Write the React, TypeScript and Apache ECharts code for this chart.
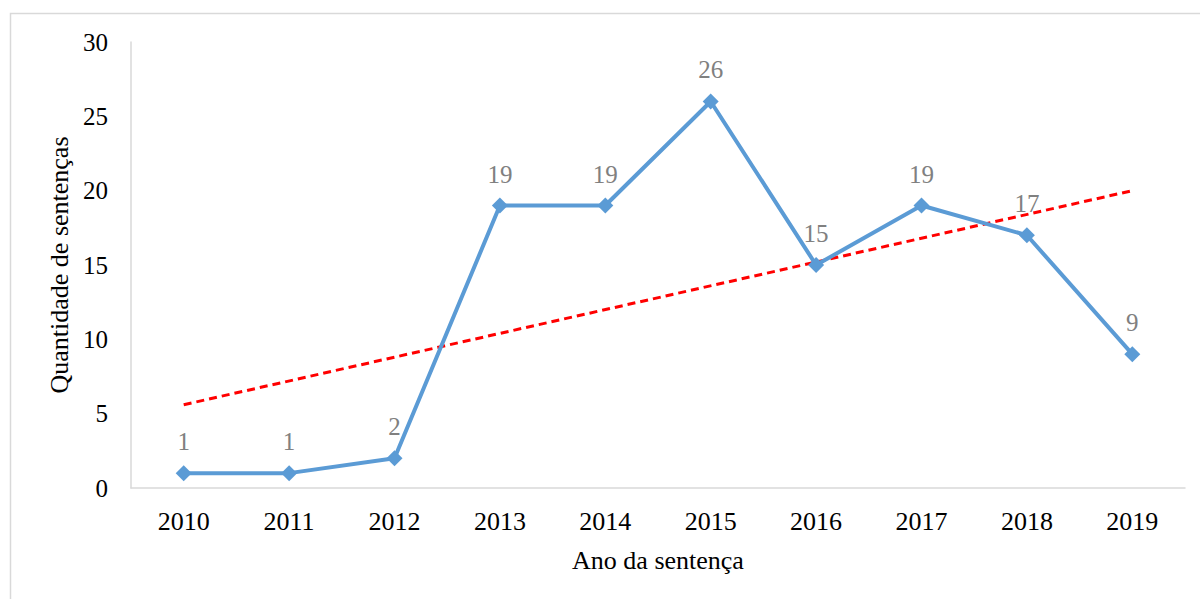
import React, { useEffect, useRef } from "react";
import * as echarts from "echarts";

const years = ["2010", "2011", "2012", "2013", "2014", "2015", "2016", "2017", "2018", "2019"];
const sentencas = [1, 1, 2, 19, 19, 26, 15, 19, 17, 9];
// linear trendline endpoints (first and last year)
const trend = [5.6, null, null, null, null, null, null, null, null, 20];
const yTicks = { min: 0, max: 30, interval: 5 };

export default function App() {
  const ref = useRef<HTMLDivElement>(null);
  useEffect(() => {
    if (!ref.current) return;
    const chart = echarts.init(ref.current, null, { renderer: "svg" });
    const font = "'Liberation Serif', 'Times New Roman', serif";
    chart.setOption({
      animation: false,
      backgroundColor: "#ffffff",
      textStyle: { fontFamily: font },
      graphic: [
        {
          type: "rect",
          shape: { x: 10.5, y: 13.5, width: 1200, height: 600 },
          style: { fill: "none", stroke: "#d9d9d9", lineWidth: 1.5 },
          silent: true,
        },
      ],
      grid: { left: 131, right: 15, top: 42, bottom: 111 },
      xAxis: {
        type: "category",
        data: years,
        boundaryGap: true,
        name: "Ano da sentença",
        nameLocation: "middle",
        nameGap: 59,
        nameTextStyle: { fontFamily: font, fontSize: 26, color: "#000" },
        axisLine: { lineStyle: { color: "#d9d9d9", width: 1.5 } },
        axisTick: { show: false },
        axisLabel: { fontFamily: font, fontSize: 26, color: "#000", margin: 20 },
        splitLine: { show: false },
      },
      yAxis: {
        type: "value",
        min: yTicks.min,
        max: yTicks.max,
        interval: yTicks.interval,
        name: "Quantidade de sentenças",
        nameLocation: "middle",
        nameGap: 57,
        nameTextStyle: { fontFamily: font, fontSize: 26, color: "#000" },
        axisLine: { show: true, lineStyle: { color: "#d9d9d9", width: 1.5 } },
        axisTick: { show: false },
        axisLabel: { fontFamily: font, fontSize: 25, color: "#000", margin: 23 },
        splitLine: { show: false },
      },
      series: [
        {
          type: "line",
          data: sentencas,
          symbol: "diamond",
          symbolSize: 16,
          lineStyle: { color: "#5b9bd5", width: 4 },
          itemStyle: { color: "#5b9bd5" },
          label: {
            show: true,
            position: "top",
            distance: 11,
            fontFamily: font,
            fontSize: 25,
            color: "#808080",
          },
          z: 3,
        },
        {
          type: "line",
          data: trend,
          connectNulls: true,
          symbol: "none",
          lineStyle: { color: "#ff0000", width: 3, type: [8, 5] },
          z: 2,
        },
      ],
    });
    return () => chart.dispose();
  }, []);
  return (
    <div
      ref={ref}
      style={{ position: "absolute", left: 0, top: 0, width: 1200, height: 599 }}
    />
  );
}
